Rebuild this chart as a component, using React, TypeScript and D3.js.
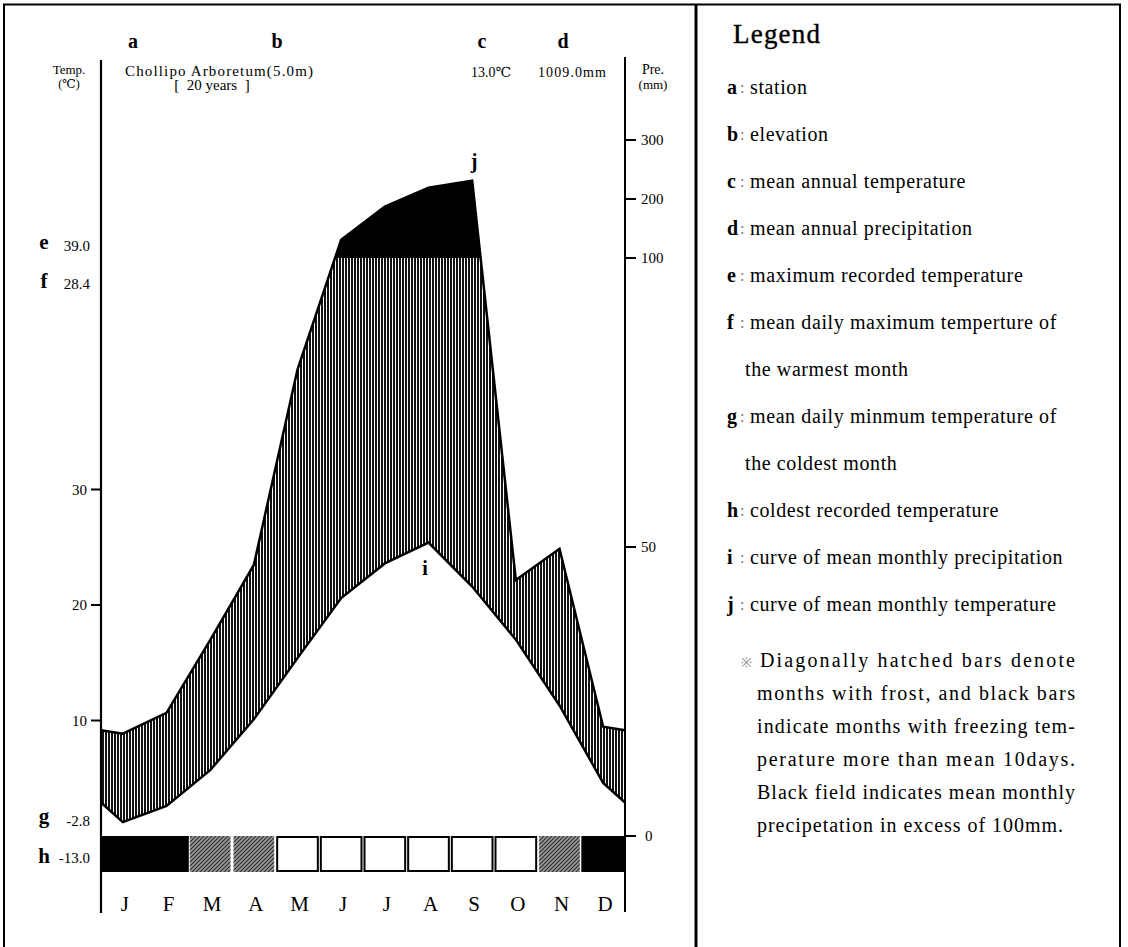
import React from 'react';
import * as d3 from 'd3';

// Chollipo Arboretum climate diagram (Walter-Lieth style)
const monthKeys = ['Jan', 'Feb', 'Mar', 'Apr', 'May', 'Jun', 'Jul', 'Aug', 'Sep', 'Oct', 'Nov', 'Dec'];
const monthLabels = ['J', 'F', 'M', 'A', 'M', 'J', 'J', 'A', 'S', 'O', 'N', 'D'];
const tempMean = [1.2, 2.6, 5.7, 10.1, 15.4, 20.6, 23.6, 25.4, 21.6, 17.0, 11.3, 4.6];
const precipMean = [17.7, 21.3, 33.9, 46.9, 80.7, 131, 187, 219, 231, 44.3, 49.7, 18.9];
// freeze = black bar, frost = hatched bar, none = empty box
const frostClass = ['freeze', 'freeze', 'frost', 'frost', 'none', 'none', 'none', 'none', 'none', 'none', 'frost', 'freeze'];

const tempTicks = [10, 20, 30];
const precipTicks = [0, 50, 100, 200, 300];

const headerKeys = ['a', 'b', 'c', 'd'];
const station = 'Chollipo Arboretum(5.0m)';
const period = '[  20 years  ]';
const annualTemp = '13.0℃';
const annualPrecip = '1009.0mm';

const sideKeys = ['e', 'f', 'g', 'h'];
const sideValues = ['39.0', '28.4', '-2.8', '-13.0'];

const legendKeys = ['a', 'b', 'c', 'd', 'e', 'f', '', 'g', '', 'h', 'i', 'j'];
const legendTexts = [
  'station',
  'elevation',
  'mean annual temperature',
  'mean annual precipitation',
  'maximum recorded temperature',
  'mean daily maximum temperture of',
  'the warmest month',
  'mean daily minmum temperature of',
  'the coldest month',
  'coldest recorded temperature',
  'curve of mean monthly precipitation',
  'curve of mean monthly temperature'
];
const noteLines = [
  'Diagonally hatched bars denote',
  'months with frost, and black bars',
  'indicate months with freezing tem-',
  'perature more than mean 10days.',
  'Black field indicates mean monthly',
  'precipetation in excess of 100mm.'
];

const serif = '"Liberation Serif", "DejaVu Serif", serif';

export default function App() {
  const x = d3.scaleBand().domain(monthKeys).range([101, 625]);
  const bw = x.bandwidth();
  const xc = (i) => x(monthKeys[i]) + bw / 2;

  const yT = d3.scaleLinear().domain([0, 30]).range([836, 489.5]);
  const yP = d3.scaleLinear().domain([0, 100, 300]).range([836, 258, 140]);

  // the curves run half a month past Jan and Dec, to the Dec/Jan mean
  const edgeT = (tempMean[0] + tempMean[11]) / 2;
  const edgeP = (precipMean[0] + precipMean[11]) / 2;
  const pts = [{ x: x.range()[0], t: edgeT, p: edgeP }]
    .concat(monthKeys.map((m, i) => ({ x: xc(i), t: tempMean[i], p: precipMean[i] })))
    .concat([{ x: x.range()[1], t: edgeT, p: edgeP }]);

  const between = d3.area().x(d => d.x).y0(d => yT(d.t)).y1(d => yP(d.p));
  const wet = d3.area().x(d => d.x).y0(yP(100)).y1(d => yP(d.p));
  const tLine = d3.line().x(d => d.x).y(d => yT(d.t));
  const pLine = d3.line().x(d => d.x).y(d => yP(d.p));

  const barTop = yT(0);
  const barH = 36;
  const left = x.range()[0];
  const right = x.range()[1];

  return (
    <div style={{ position: 'absolute', left: 0, top: 0 }}>
      <svg width={1128} height={947} style={{ display: 'block', fontFamily: serif }}>
        <defs>
          <pattern id="vhatch" patternUnits="userSpaceOnUse" width={3} height={8}>
            <rect width={3} height={8} fill="#fff" shapeRendering="crispEdges" />
            <rect width={2} height={8} fill="#111" shapeRendering="crispEdges" />
          </pattern>
          <pattern id="frost" patternUnits="userSpaceOnUse" width={4} height={4}>
            <rect width={4} height={4} fill="#9a9a9a" />
            <path d="M-1,1 L1,-1 M0,4 L4,0 M3,5 L5,3" stroke="#2a2a2a" strokeWidth={1.1} />
          </pattern>
          <clipPath id="above100">
            <rect x={0} y={0} width={1128} height={yP(100)} />
          </clipPath>
        </defs>

        <rect width={1128} height={947} fill="#fff" />

        {/* frame */}
        <line x1={3} x2={1121} y1={4.5} y2={4.5} stroke="#000" strokeWidth={2} />
        <line x1={4} x2={4} y1={4} y2={947} stroke="#000" strokeWidth={2} />
        <line x1={696} x2={696} y1={4} y2={947} stroke="#000" strokeWidth={3} />
        <line x1={1120} x2={1120} y1={4} y2={947} stroke="#000" strokeWidth={2} />

        {/* header */}
        {headerKeys.map((k, i) => (
          <text key={k} x={[133, 277, 482, 563][i]} y={48} textAnchor="middle" fontSize={20} fontWeight="bold">{k}</text>
        ))}
        <text x={69} y={74} textAnchor="middle" fontSize={13}>Temp.</text>
        <text x={69} y={88} textAnchor="middle" fontSize={12}>(℃)</text>
        <text x={125} y={76} fontSize={15} textLength={188} lengthAdjust="spacing">{station}</text>
        <text x={212} y={90} textAnchor="middle" fontSize={15} style={{ whiteSpace: 'pre' }}>{period}</text>
        <text x={491} y={77} textAnchor="middle" fontSize={14}>{annualTemp}</text>
        <text x={572} y={77} textAnchor="middle" fontSize={14} textLength={68} lengthAdjust="spacing">{annualPrecip}</text>
        <text x={653} y={74} textAnchor="middle" fontSize={14}>Pre.</text>
        <text x={653} y={89} textAnchor="middle" fontSize={13}>(mm)</text>

        {/* climate fields */}
        <path d={between(pts)} fill="url(#vhatch)" />
        <path d={wet(pts)} fill="#000" clipPath="url(#above100)" />
        <path d={tLine(pts)} fill="none" stroke="#000" strokeWidth={2.5} strokeLinejoin="miter" />
        <path d={pLine(pts)} fill="none" stroke="#000" strokeWidth={2.5} strokeLinejoin="miter" />

        <text x={425} y={575} textAnchor="middle" fontSize={20} fontWeight="bold">i</text>
        <text x={474} y={168} textAnchor="middle" fontSize={20} fontWeight="bold">j</text>

        {/* frost bar */}
        {monthKeys.map((m, i) => {
          const c = frostClass[i];
          if (c === 'freeze') {
            return <rect key={m + i} x={x(m)} y={barTop} width={bw + 0.5} height={barH} fill="#000" />;
          }
          if (c === 'frost') {
            return <rect key={m + i} x={x(m) + 1.5} y={barTop} width={bw - 3} height={barH} fill="url(#frost)" />;
          }
          return <rect key={m + i} x={x(m) + 1.5} y={barTop + 1} width={bw - 3} height={barH - 2} fill="#fff" stroke="#000" strokeWidth={2} />;
        })}

        {/* axes */}
        <line x1={left} x2={left} y1={60} y2={913} stroke="#000" strokeWidth={2.2} />
        <line x1={right} x2={right} y1={57} y2={912} stroke="#000" strokeWidth={2} />
        {tempTicks.map(v => (
          <g key={'t' + v}>
            <line x1={left - 10} x2={left} y1={yT(v)} y2={yT(v)} stroke="#000" strokeWidth={2} />
            <text x={left - 14} y={yT(v)} dy="0.35em" textAnchor="end" fontSize={15}>{v}</text>
          </g>
        ))}
        {precipTicks.map(v => (
          <g key={'p' + v}>
            <line x1={right} x2={right + 11} y1={yP(v)} y2={yP(v)} stroke="#000" strokeWidth={2} />
            <text x={right + (v === 0 ? 20 : 16)} y={yP(v)} dy="0.35em" fontSize={15}>{v}</text>
          </g>
        ))}

        {/* e f g h marks */}
        {sideKeys.map((k, i) => (
          <g key={k}>
            <text x={44} y={[249, 288, 823, 863][i]} textAnchor="middle" fontSize={21} fontWeight="bold">{k}</text>
            <text x={90} y={[251, 289, 826, 863][i]} textAnchor="end" fontSize={15}>{sideValues[i]}</text>
          </g>
        ))}

        {monthLabels.map((l, i) => (
          <text key={'m' + i} x={xc(i) + 2} y={911} textAnchor="middle" fontSize={21}>{l}</text>
        ))}

        {/* legend panel */}
        <text x={733} y={43} fontSize={27} textLength={87} lengthAdjust="spacing" stroke="#000" strokeWidth={0.4}>Legend</text>
        {legendTexts.map((t, i) => {
          const y = 94 + i * 47;
          const k = legendKeys[i];
          return (
            <g key={'lg' + i}>
              {k ? <text x={727} y={y} fontSize={20} fontWeight="bold">{k}</text> : null}
              {k ? <text x={740} y={y - 1} fontSize={16} fill="#777">:</text> : null}
              <text x={k ? 750 : 745} y={y} fontSize={20} letterSpacing={0.6}>{t}</text>
            </g>
          );
        })}
        <text x={741} y={667} fontSize={13} fill="#888">※</text>
        {noteLines.map((t, i) => (
          <text key={'n' + i} x={i === 0 ? 760 : 757} y={667 + i * 33} fontSize={20}
            textLength={i === 0 ? 315 : i === noteLines.length - 1 ? 306 : 318} lengthAdjust="spacing">{t}</text>
        ))}
      </svg>
    </div>
  );
}
